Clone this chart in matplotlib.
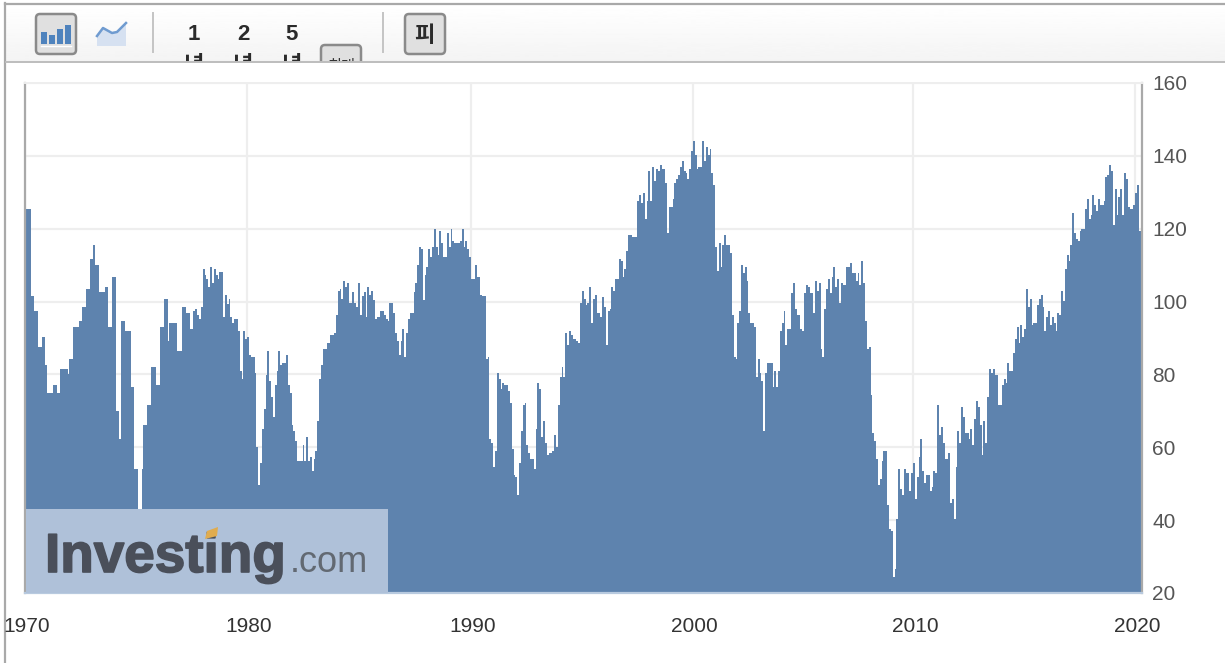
import numpy as np
import matplotlib
matplotlib.use('Agg')
import matplotlib.pyplot as plt
import matplotlib.patheffects as pe
from matplotlib.patches import FancyBboxPatch, Rectangle, Polygon
from matplotlib.transforms import ScaledTranslation

plt.rcParams['font.family'] = ['Liberation Sans', 'Noto Sans CJK KR', 'DejaVu Sans']

# monthly index values, one row per year
vals_1970s = [
    125.5, 125.5, 125.5, 101.4, 101.4, 97.5, 97.5, 87.6, 87.6, 90.4, 90.4, 82.7,
    75, 75, 75, 77.2, 77.2, 75, 75, 81.6, 81.6, 81.6, 81.6, 80,
    84.3, 84.3, 93.1, 93.1, 93.1, 94.8, 94.8, 98.6, 98.6, 103.5, 103.5, 111.8,
    111.8, 115.6, 110.1, 110.1, 102.5, 102.5, 102.5, 104.1, 104.1, 93.1, 93.1, 106.8,
    106.8, 70, 70, 62.3, 94.8, 94.8, 92, 92, 92, 76.6, 76.6, 54,
    54, 42.6, 42.6, 54, 66.2, 66.2, 71.7, 71.7, 82.1, 82.1, 82.1, 77.2,
    77.2, 93.1, 93.1, 100.8, 100.8, 89.3, 94.2, 94.2, 94.2, 94.2, 86.5, 86.5,
    86.5, 98.6, 98.6, 97, 97, 92.6, 92.6, 97.5, 98, 96.4, 95.3, 98.6,
    109, 107.4, 106.3, 104.1, 109.6, 105.2, 109, 107.4, 106.3, 108, 108, 95.9,
    101.9, 99.2, 100.8, 95.9, 94.2, 95.3, 95.3, 92, 81, 78.8, 92, 89.8,
]
vals_1980s = [
    90.4, 85.4, 84.9, 84.9, 80.5, 60.1, 49.7, 55.7, 65.1, 70.6, 79.9, 86.5,
    78.3, 73.9, 68.4, 77.2, 81, 86.5, 82.7, 83.2, 83.2, 85.4, 77.2, 75,
    66.2, 64.5, 61.8, 56.3, 56.3, 56.3, 60.7, 56.3, 62.9, 56.3, 57.4, 53.6,
    56.8, 59, 67.3, 78.8, 82.7, 87, 87, 88.7, 88.7, 90.9, 90.9, 91.5,
    96.4, 103, 103.5, 100.8, 105.7, 104.1, 105.2, 99.7, 99.7, 102.5, 99.7, 98.6,
    105.2, 96.4, 101.4, 102.5, 95.9, 104.1, 101.9, 103, 100.3, 95.3, 95.9, 95.9,
    97.5, 97.5, 96.4, 95.3, 94.8, 99.7, 99.7, 97, 91.5, 89.3, 85.4, 89.3,
    92.6, 84.9, 91.5, 95.3, 97, 97, 102.5, 105.2, 110.1, 115.1, 114.5, 100.3,
    107.4, 109.6, 114.5, 112.3, 115.1, 120, 115.1, 112.9, 119.5, 116.2, 112.3, 112.3,
    118.9, 115.1, 120, 116.7, 116.2, 116.2, 116.2, 116.7, 120, 115.1, 116.7, 114.5,
]
vals_1990s = [
    112.3, 106.3, 106.3, 110.1, 106.8, 106.8, 101.9, 101.4, 101.4, 84.3, 84.9, 62.3,
    61.2, 54.6, 59, 80.5, 78.8, 76.1, 77.7, 77.2, 77.2, 75.5, 72.2, 59.6,
    52.5, 51.9, 47, 55.7, 64.5, 71.7, 72.2, 60.7, 58.5, 56.8, 56.8, 54,
    65.1, 77.7, 76.1, 62.9, 67.3, 61.2, 58, 58.5, 58.5, 59, 63.4, 60.1,
    71.7, 79.4, 82.1, 79.4, 91.5, 88.2, 92, 90.9, 89.8, 89.8, 89.3, 88.7,
    99.7, 103, 100.8, 99.1, 99.7, 104.1, 94.2, 100.8, 101.9, 96.9, 96.9, 95.8,
    101.3, 98.6, 88.1, 97.5, 98, 104.1, 103, 106.3, 106.3, 111.8, 111.2, 106.8,
    109, 114, 118.4, 118.4, 117.8, 117.8, 117.8, 127.7, 129.3, 127.1, 129.9, 122.7,
    127.7, 135.9, 127.7, 137, 133.2, 136.5, 135.9, 137.6, 136.5, 136.5, 132.6, 118.9,
    126, 126, 128.2, 132.6, 133.7, 134.8, 137, 138.7, 135.9, 135.4, 133.7, 136.5,
]
vals_2000s = [
    141.4, 144.2, 140.3, 136.5, 137, 137, 144.2, 138.7, 142.5, 140.3, 142, 135.4,
    132.1, 115, 108.5, 116.2, 109.6, 115.6, 118.4, 115.6, 115.6, 113.4, 96.4, 84.8,
    84.3, 94.2, 97.5, 110.1, 107.9, 109.6, 105.7, 96.9, 94.2, 94.2, 93.1, 79.3,
    84.3, 80.4, 78.2, 64.5, 80.4, 83.2, 83.2, 83.2, 76.6, 81, 76.6, 81,
    92, 94.2, 97.5, 88.1, 92.5, 92.5, 102.4, 105.2, 98, 96.4, 96.4, 92.5,
    92, 102.4, 104.6, 104.1, 102.4, 102.4, 96.9, 105.7, 103, 105.2, 87, 84.8,
    98, 103.5, 106.3, 102.4, 106.8, 109.6, 104.1, 106.3, 99.7, 105.2, 104.6, 104.6,
    109.6, 109.6, 110.7, 107.9, 107.9, 105.7, 107.9, 104.6, 111.2, 105.2, 94.7, 87,
    87.6, 74.4, 64, 61.8, 56.8, 49.7, 51.3, 56.3, 59, 59, 44.2, 37.6,
    37, 24.4, 26.6, 40.3, 54.1, 48.6, 46.9, 54.1, 53, 53, 48, 53,
]
vals_2010s = [
    55.7, 45.8, 51.9, 57.4, 62.3, 53.5, 50.2, 52.4, 52.4, 48, 49.1, 53.5,
    53, 71.7, 63.4, 65.6, 61.2, 56.8, 56.8, 58.5, 44.7, 45.8, 40.3, 54.6,
    64.5, 61.2, 71.1, 68.4, 64, 64, 62.3, 65.1, 60.7, 67.8, 72.8, 71.1,
    66.2, 57.9, 67.3, 61.2, 73.9, 81.5, 80.5, 81.5, 79.9, 79.9, 71.7, 71.7,
    77.2, 78.8, 77.7, 83.2, 81, 81, 85.9, 89.8, 93.1, 88.7, 93.6, 90.3,
    92.5, 103.5, 98.6, 100.8, 93.6, 94.2, 94.2, 99.1, 100.8, 101.9, 98.6, 92,
    95.8, 97.5, 93.6, 95.8, 94.2, 92, 96.9, 96.4, 103, 100.2, 109, 112.9,
    111.2, 115.6, 124.4, 118.9, 117.3, 116.7, 119.5, 120, 120, 125.5, 128.2, 122.7,
    123.8, 129.3, 126.6, 124.9, 128.2, 126.6, 126.6, 127.7, 134.3, 134.8, 137.6, 135.9,
    121.1, 131, 123.8, 128.8, 131, 123.8, 135.4, 133.7, 126, 125.5, 125.5, 126.6,
]
vals_2020 = [129.9, 132.1, 119.5]

x_labels = ['1970', '1980', '1990', '2000', '2010', '2020']
x_tick_months = [0, 120, 241, 361, 480, 600]  # where the grid lines sit
y_ticks = [20, 40, 60, 80, 100, 120, 140, 160]

values = vals_1970s + vals_1980s + vals_1990s + vals_2000s + vals_2010s + vals_2020
months = np.arange(len(values))

W, H = 1225, 663
BAR = '#5e83ae'
GRID = '#eeeeee'
EDGE = '#a9a9a9'

fig = plt.figure(figsize=(W / 100, H / 100), dpi=100, facecolor='white')

# page furniture, in pixel coordinates
ui = fig.add_axes([0, 0, 1, 1], zorder=1)
ui.set_xlim(0, W)
ui.set_ylim(H, 0)
ui.axis('off')

grad = np.linspace(1.0, 0.955, 60).reshape(-1, 1)
ui.imshow(grad, extent=(6, W, 62, 4), cmap='gray', vmin=0, vmax=1, aspect='auto', zorder=0)
ui.set_xlim(0, W)
ui.set_ylim(H, 0)
ui.plot([5, W], [3.5, 3.5], color=EDGE, lw=1.6, zorder=3)
ui.plot([5, 5], [3, H], color=EDGE, lw=1.6, zorder=3)
ui.plot([6, W], [62, 62], color='#bdbdbd', lw=1.4, zorder=3)

strip = Rectangle((0, 4), W, 57.5, transform=ui.transData)


def button(x0, y0, x1, y1):
    p = FancyBboxPatch((x0 + 3, y0 + 3), x1 - x0 - 6, y1 - y0 - 6,
                       boxstyle='round,pad=3,rounding_size=4',
                       fc='#e0e0e0', ec='#8a8a8a', lw=1.8, zorder=1)
    ui.add_patch(p)
    p.set_clip_path(strip)


button(36, 14, 76, 54)
button(405, 14, 445, 54)
button(321, 45, 361, 80)

# chart type icons
for bx, btop in zip([41, 49, 57, 65], [32, 35, 29, 25]):
    ui.add_patch(Rectangle((bx, btop), 6, 44 - btop, fc='#4f83bd', ec='none', zorder=2))
ui.plot([41, 71], [45.5, 45.5], color='white', lw=1, zorder=2)
ln_x = [97, 103, 112, 117, 126]
ln_y = [36, 28, 33, 32, 23]
ui.add_patch(Polygon(list(zip(ln_x, ln_y)) + [(126, 46), (97, 46)], fc='#d6e1f1', ec='none', zorder=1))
ui.plot(ln_x, ln_y, color='#6f9bd0', lw=1.8, zorder=2)

for dx in [153, 383]:
    ui.plot([dx, dx], [13, 52], color='#c4c4c4', lw=1.4, zorder=1)

for tx, lab in zip([194, 243, 292], ['1', '2', '5']):
    ui.text(tx, 35, lab, fontsize=16, fontweight='bold', color='#2b2b2b', ha='center', va='center', zorder=2)
    t = ui.text(tx, 66, '년', fontsize=16, fontweight='bold', color='#2b2b2b', ha='center', va='center', zorder=2)
    t.set_clip_path(strip)
    t.set_clip_on(True)
t = ui.text(341, 67, '최대', fontsize=11, color='#333333', ha='center', va='center', zorder=2)
t.set_clip_path(strip)
t.set_clip_on(True)
ui.text(424, 37, '피', fontsize=16, fontweight='bold', color='#2b2b2b', ha='center', va='center', zorder=2)

# the chart
ax = fig.add_axes([25 / W, (H - 593) / H, 1117 / W, 510 / H], zorder=2)
ax.set_facecolor('white')
ax.bar(months, values, width=1.08, align='edge', color=BAR, linewidth=0, antialiased=False, zorder=2)
ax.set_xlim(0, 1117 / 1.85)
ax.set_ylim(20, 160)
ax.set_xticks(x_tick_months)
ax.set_xticklabels(x_labels, fontsize=15, color='#333333')
ax.set_yticks(y_ticks)
ax.yaxis.tick_right()
ax.tick_params(axis='both', length=0)
ax.tick_params(axis='x', pad=17)
ax.tick_params(axis='y', pad=7.5, labelsize=15, labelcolor='#555555')
ax.grid(True, color=GRID, lw=1.6, zorder=0)
ax.set_axisbelow(True)
for side in ['left', 'right']:
    ax.spines[side].set_color(EDGE)
    ax.spines[side].set_linewidth(1.6)
ax.spines['top'].set_color(GRID)
ax.spines['top'].set_linewidth(1.4)
ax.spines['bottom'].set_color('#b8cadf')
ax.spines['bottom'].set_linewidth(1.6)
shift = ScaledTranslation(2 / 100, 0, fig.dpi_scale_trans)
for lab in ax.get_xticklabels():
    lab.set_transform(lab.get_transform() + shift)

# watermark sits on top of the bars
ui2 = fig.add_axes([0, 0, 1, 1], zorder=3)
ui2.set_xlim(0, W)
ui2.set_ylim(H, 0)
ui2.axis('off')
ui2.add_patch(Rectangle((26, 509), 362, 84, fc='#afc1d9', ec='none'))
ui2.text(45, 572, 'Investing', fontsize=39.5, fontweight='bold', color='#4a4f5a', ha='left', va='baseline',
         path_effects=[pe.withStroke(linewidth=1.2, foreground='#4a4f5a')])
ui2.text(290, 572, '.com', fontsize=26, color='#626972', ha='left', va='baseline')
ui2.add_patch(Polygon([(207, 531), (218, 527), (217, 536), (205, 539)], fc='#e0ac4f', ec='none', zorder=5))

fig.savefig('out.png', dpi=100)
